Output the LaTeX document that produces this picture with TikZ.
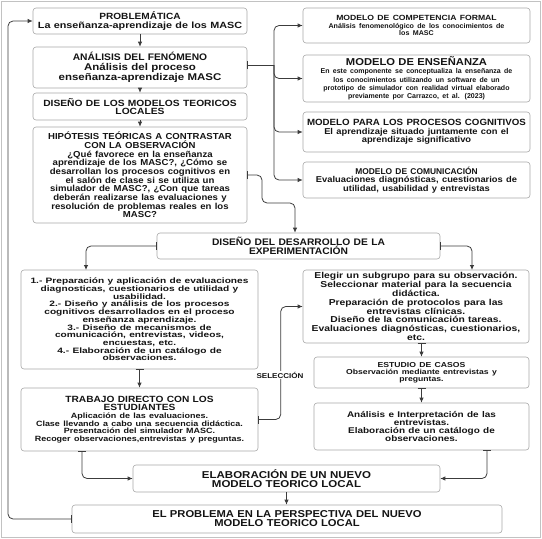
\documentclass[tikz,border=0pt]{standalone}
\usepackage{fontspec}
\setmainfont{Liberation Sans}
\usetikzlibrary{arrows.meta,calc}
\definecolor{boxgray}{HTML}{A8A8A8}
\definecolor{linegray}{HTML}{3C3C3C}
\definecolor{txt}{HTML}{141414}
\newcommand{\fsx}[3]{\fontsize{#1}{#2}\selectfont\addfontfeature{FakeStretch=#3}\lineskiplimit=-100pt\relax}
\tikzset{
  box/.style={draw=boxgray, line width=0.6pt, rounded corners=3pt, fill=white, align=center,
    inner sep=1pt, text=txt, font=\bfseries},
  conn/.style={draw=linegray, line width=0.8pt, rounded corners=5pt,
    {Bar[width=8pt,line width=0.8pt]}-{Latex[length=5pt,width=4.5pt]}},
  plain/.style={draw=linegray, line width=0.8pt, -{Latex[length=5pt,width=4.5pt]}},
  lbl/.style={fill=white, inner sep=1pt, text=txt, font=\bfseries}
}
\begin{document}
\begin{tikzpicture}[x=1pt,y=-1pt]
\useasboundingbox (0,0) rectangle (542,539);
\draw[draw=boxgray!70, line width=0.8pt] (1.5,1.5) rectangle (540.5,537.5);

% left column
\node[box, minimum width=214pt, minimum height=26pt, text width=212pt] (prob) at (140,21)
  {\fsx{9}{8.7}{1.12}PROBLEMÁTICA\par\fsx{9}{8.7}{1.2}La enseñanza-aprendizaje de los MASC\par};
\node[box, minimum width=214pt, minimum height=41pt, text width=210pt] (anal) at (140,67.5)
  {\fsx{9.5}{10}{1.08}ANÁLISIS DEL FENÓMENO\par\fsx{9.8}{10}{1.17}Análisis del proceso\\enseñanza-aprendizaje MASC\par};
\node[box, minimum width=214pt, minimum height=27pt, text width=210pt] (dise) at (140,106.5)
  {\fsx{9}{8.2}{1.14}DISEÑO DE LOS MODELOS TEORICOS\\LOCALES\par};
\node[box, minimum width=214pt, minimum height=96pt, text width=210pt] (hipo) at (140,175)
  {\fsx{8.7}{8.7}{1.1}HIPÓTESIS TEÓRICAS A CONTRASTAR\\CON LA OBSERVACIÓN\\¿Qué favorece en la enseñanza\\aprendizaje de los MASC?, ¿Cómo se\\desarrollan los procesos cognitivos en\\el salón de clase si se utiliza un\\simulador de MASC?, ¿Con que tareas\\deberán realizarse las evaluaciones y\\resolución de problemas reales en los\\MASC?\par};

% right column
\node[box, minimum width=227pt, minimum height=35pt, text width=223pt] (mcf) at (416.5,25.5)
  {\fsx{7.5}{7.5}{1.15}MODELO DE COMPETENCIA FORMAL\par\fsx{6.9}{7.5}{1.03}Análisis fenomenológico de los conocimientos de\\los MASC\par};
\node[box, minimum width=227pt, minimum height=47pt, text width=223pt] (men) at (416.5,78.5)
  {\fsx{10}{9}{1.12}MODELO DE ENSEÑANZA\par\fsx{7}{8.3}{1.0}En este componente se conceptualiza la enseñanza de\\los conocimientos utilizando un software de un\\prototipo de simulador con realidad virtual elaborado\\previamente por Carrazco, et al. (2023)\par};
\node[box, minimum width=227pt, minimum height=40pt, text width=223pt] (mpc) at (416.5,132)
  {\fsx{9}{8.5}{1.08}MODELO PARA LOS PROCESOS COGNITIVOS\par\fsx{8.5}{8.5}{1.1}El aprendizaje situado juntamente con el\\aprendizaje significativo\par};
\node[box, minimum width=227pt, minimum height=36pt, text width=223pt] (mcom) at (416.5,180)
  {\fsx{8.4}{8.5}{1.0}MODELO DE COMUNICACIÓN\par\fsx{8.5}{8.5}{1.1}Evaluaciones diagnósticas, cuestionarios de\\utilidad, usabilidad y entrevistas\par};

% middle
\node[box, minimum width=283pt, minimum height=26pt, text width=279pt] (ddes) at (298.5,246)
  {\fsx{9.5}{8.5}{1.08}DISEÑO DEL DESARROLLO DE LA\\EXPERIMENTACIÓN\par};
\node[box, minimum width=237pt, minimum height=99pt, text width=233pt] (list) at (139.5,319.5)
  {\fsx{7.8}{7.7}{1.3}1.- Preparación y aplicación de evaluaciones\\diagnosticas, cuestionarios de utilidad y\\usabilidad.\\2.- Diseño y análisis de los procesos\\cognitivos desarrollados en el proceso\\enseñanza aprendizaje.\\3.- Diseño de mecanismos de\\comunicación, entrevistas, videos,\\encuestas, etc.\\4.- Elaboración de un catálogo de\\observaciones.\par};
\node[box, minimum width=226pt, minimum height=73pt, text width=222pt] (eleg) at (416,306.5)
  {\fsx{8.6}{8.9}{1.2}Elegir un subgrupo para su observación.\\Seleccionar material para la secuencia\\didáctica.\\Preparación de protocolos para las\\entrevistas clínicas.\\Diseño de la comunicación tareas.\\Evaluaciones diagnósticas, cuestionarios,\\etc.\par};
\node[box, minimum width=215pt, minimum height=31pt, text width=211pt] (estu) at (421.5,372.5)
  {\fsx{7.2}{7}{1.2}ESTUDIO DE CASOS\\Observación mediante entrevistas y\\preguntas.\par};
\node[box, minimum width=215pt, minimum height=47pt, text width=211pt] (anai) at (421.5,426.5)
  {\fsx{8.3}{8.3}{1.2}Análisis e Interpretación de las\\entrevistas.\\Elaboración de un catálogo de\\observaciones.\par};
\node[box, minimum width=237pt, minimum height=63pt, text width=233pt] (trab) at (139.5,419.5)
  {\fsx{9}{8.8}{1.13}TRABAJO DIRECTO CON LOS\\ESTUDIANTES\par\fsx{7.6}{7.7}{1.18}Aplicación de las evaluaciones.\\Clase llevando a cabo una secuencia didáctica.\\Presentación del simulador MASC.\\Recoger observaciones,entrevistas y preguntas.\par};
\node[box, minimum width=307pt, minimum height=27pt, text width=303pt] (elab) at (286.5,478.5)
  {\fsx{10}{9}{1.15}ELABORACIÓN DE UN NUEVO\\MODELO TEORICO LOCAL\par};
\node[box, minimum width=430pt, minimum height=28pt, text width=426pt] (elpr) at (287,519)
  {\fsx{10}{9}{1.12}EL PROBLEMA EN LA PERSPECTIVA DEL NUEVO\\MODELO TEORICO LOCAL\par};

% coordinates
\coordinate (brace) at (274,65);
\coordinate (hbend) at (262,203);
\coordinate (la) at (86,270);
\coordinate (ra) at (472,270);
\coordinate (trabb) at (82,451);
\coordinate (anaib) at (487,450);
\coordinate (fb) at (8,21);

% connectors
\draw[plain] (prob.south) -- (anal.north);
\draw[plain] (anal.south) -- (dise.north);
\draw[plain] (dise.south) -- (hipo.north);

\draw[draw=linegray, line width=0.8pt, {Bar[width=8pt,line width=0.8pt]}-] (anal.east |- brace) -- (brace);
\draw[plain, rounded corners=5pt] (brace) |- (mcf.west);
\draw[plain, rounded corners=5pt] (brace) |- (men.west);
\draw[plain, rounded corners=5pt] (brace) |- (mpc.west);
\draw[plain, rounded corners=5pt] (brace) |- (mcom.west);

\draw[conn] (hipo.east) -| (hbend) -| (ddes.north -| 295,0);
\draw[conn] (ddes.west) -| (la);
\draw[conn] (ddes.east) -| (ra);
\draw[conn] (list.south) -- (trab.north);
\draw[conn] (trabb) |- (elab.west);
\draw[conn] (trab.east) -| ($(eleg.west)+(-22,0)$) -- (eleg.west);
\node[lbl] (sel) at (280,375) {\fsx{7}{8}{1.15}SELECCIÓN};
\draw[conn] (estu.north |- eleg.south) -- (estu.north);
\draw[conn] (estu.south) -- (anai.north);
\draw[conn] (anaib) |- (elab.east);
\draw[plain] (elab.south) -- (elab.south |- elpr.north);
\draw[conn] (elpr.west) -| (fb) -- (prob.west);
\end{tikzpicture}
\end{document}
